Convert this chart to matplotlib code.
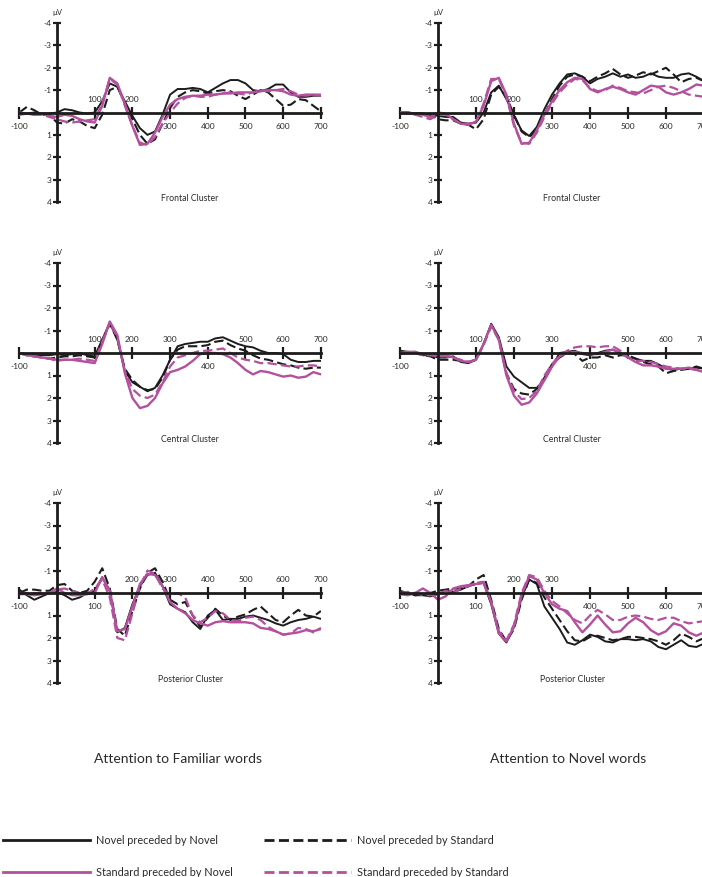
import matplotlib
matplotlib.use('Agg')
import matplotlib.pyplot as plt
from matplotlib.lines import Line2D

plt.rcParams['font.family'] = ['Lato', 'DejaVu Sans']

# time axis (ms), one value every 20 ms
TIMES = list(range(-100, 701, 20))
Y_TICKS = [-4, -3, -2, -1, 1, 2, 3, 4]
X_TICKS = [-100, 100, 200, 300, 400, 500, 600, 700]

# Frontal cluster - attention to familiar words
frontal_fam_nn = [0.0, 0.05, 0.0, 0.05, 0.05, 0.0, -0.15, -0.1, 0.0, 0.05, 0.0,
                  -0.5, -1.3, -1.15, -0.5, 0.15, 0.7, 1.0, 0.85, 0.1, -0.8,
                  -1.05, -1.05, -1.1, -1.05, -0.9, -1.1, -1.3, -1.45, -1.45, -1.3,
                  -1.0, -0.95, -1.05, -1.25, -1.25, -0.9, -0.7, -0.7, -0.75, -0.75]
frontal_fam_ns = [0.0, -0.25, -0.1, 0.1, 0.1, 0.45, 0.5, 0.3, 0.4, 0.6, 0.7,
                  0.1, -1.0, -1.15, -0.4, 0.3, 1.0, 1.4, 1.2, 0.5, -0.2,
                  -0.7, -0.9, -1.0, -0.95, -0.85, -0.95, -1.0, -0.95, -0.75, -0.6,
                  -0.8, -1.0, -0.9, -0.6, -0.3, -0.35, -0.6, -0.55, -0.3, -0.05]
frontal_fam_sn = [0.1, 0.05, 0.1, 0.05, 0.15, 0.2, 0.1, 0.15, 0.3, 0.4, 0.45,
                  -0.3, -1.55, -1.3, -0.4, 0.6, 1.45, 1.4, 0.9, 0.2, -0.35,
                  -0.6, -0.7, -0.75, -0.75, -0.8, -0.8, -0.85, -0.85, -0.9, -0.9,
                  -0.9, -0.95, -1.0, -1.0, -0.95, -0.8, -0.75, -0.8, -0.8, -0.75]
frontal_fam_ss = [0.0, 0.05, 0.1, 0.1, 0.2, 0.3, 0.4, 0.45, 0.4, 0.35, 0.3,
                  -0.4, -1.5, -1.25, -0.3, 0.6, 1.35, 1.45, 1.1, 0.5, 0.0,
                  -0.4, -0.65, -0.75, -0.7, -0.7, -0.8, -0.85, -0.9, -0.85, -0.8,
                  -0.9, -1.0, -0.95, -1.0, -1.05, -0.95, -0.8, -0.75, -0.8, -0.8]

# Frontal cluster - attention to novel words
frontal_nov_nn = [0.0, 0.0, 0.05, 0.05, 0.1, 0.15, 0.2, 0.2, 0.45, 0.5, 0.45,
                  0.0, -0.9, -1.2, -0.6, 0.15, 0.8, 1.05, 0.65, -0.15, -0.8,
                  -1.3, -1.7, -1.75, -1.6, -1.3, -1.5, -1.6, -1.75, -1.6, -1.7,
                  -1.55, -1.6, -1.75, -1.6, -1.55, -1.55, -1.7, -1.75, -1.6, -1.4]
frontal_nov_ns = [0.0, 0.0, 0.05, 0.05, 0.1, 0.3, 0.35, 0.35, 0.5, 0.55, 0.75,
                  0.3, -0.8, -1.15, -0.7, 0.1, 0.85, 1.1, 0.8, 0.1, -0.6,
                  -1.2, -1.6, -1.7, -1.6, -1.4, -1.6, -1.75, -1.95, -1.7, -1.55,
                  -1.65, -1.8, -1.7, -1.85, -2.0, -1.7, -1.35, -1.5, -1.55, -1.4]
frontal_nov_sn = [0.0, 0.0, 0.05, 0.1, 0.2, 0.0, 0.05, 0.3, 0.5, 0.55, 0.4,
                  -0.3, -1.4, -1.55, -0.8, 0.5, 1.4, 1.35, 0.8, 0.1, -0.5,
                  -1.0, -1.35, -1.55, -1.5, -1.05, -0.9, -1.05, -1.15, -1.05, -0.9,
                  -0.8, -1.0, -1.2, -1.15, -0.9, -0.8, -0.9, -1.05, -1.25, -1.2]
frontal_nov_ss = [0.0, 0.05, 0.1, 0.2, 0.3, 0.1, 0.1, 0.3, 0.5, 0.5, 0.45,
                  -0.4, -1.5, -1.5, -0.7, 0.6, 1.35, 1.4, 0.9, 0.2, -0.4,
                  -0.9, -1.25, -1.5, -1.45, -1.1, -0.95, -1.0, -1.2, -1.1, -0.95,
                  -0.9, -0.85, -1.0, -1.15, -1.2, -1.1, -0.95, -0.8, -0.75, -0.7]

# Central cluster - attention to familiar words
central_fam_nn = [0.0, 0.05, 0.1, 0.1, 0.1, 0.05, 0.1, 0.05, 0.0, 0.1, 0.15,
                  -0.6, -1.35, -0.6, 0.8, 1.3, 1.5, 1.7, 1.55, 1.0, 0.3,
                  -0.3, -0.4, -0.45, -0.5, -0.5, -0.65, -0.7, -0.55, -0.4, -0.3,
                  -0.25, -0.1, 0.0, 0.0, 0.05, 0.3, 0.4, 0.4, 0.35, 0.35]
central_fam_ns = [0.0, 0.1, 0.15, 0.2, 0.25, 0.2, 0.15, 0.15, 0.1, 0.15, 0.2,
                  -0.5, -1.3, -0.6, 0.7, 1.2, 1.5, 1.65, 1.6, 1.1, 0.3,
                  -0.15, -0.3, -0.3, -0.3, -0.35, -0.5, -0.55, -0.35, -0.2, -0.1,
                  0.1, 0.25, 0.3, 0.4, 0.5, 0.55, 0.65, 0.7, 0.65, 0.65]
central_fam_sn = [0.0, 0.1, 0.15, 0.2, 0.25, 0.3, 0.3, 0.3, 0.35, 0.4, 0.45,
                  -0.4, -1.4, -0.8, 0.9, 2.0, 2.45, 2.35, 2.0, 1.35, 0.85,
                  0.75, 0.6, 0.35, 0.05, 0.0, 0.0, 0.05, 0.2, 0.45, 0.75,
                  0.95, 0.8, 0.85, 0.95, 1.05, 1.0, 1.1, 1.05, 0.85, 0.95]
central_fam_ss = [0.0, 0.1, 0.15, 0.2, 0.25, 0.35, 0.3, 0.3, 0.25, 0.3, 0.35,
                  -0.5, -1.35, -0.7, 0.8, 1.6, 1.9, 2.0, 1.85, 1.3, 0.6,
                  0.2, 0.1, 0.0, -0.1, -0.1, -0.15, -0.2, 0.0, 0.2, 0.3,
                  0.35, 0.45, 0.45, 0.5, 0.55, 0.6, 0.6, 0.55, 0.55, 0.6]

# Central cluster - attention to novel words
central_nov_nn = [-0.05, 0.0, 0.0, 0.1, 0.1, 0.2, 0.2, 0.15, 0.4, 0.45, 0.3,
                  -0.4, -1.3, -0.7, 0.6, 1.05, 1.3, 1.55, 1.55, 1.2, 0.6,
                  0.0, -0.05, -0.1, 0.05, 0.1, 0.0, -0.1, -0.15, 0.0, 0.2,
                  0.25, 0.35, 0.35, 0.5, 0.7, 0.75, 0.7, 0.7, 0.65, 0.7]
central_nov_ns = [-0.1, -0.05, -0.05, 0.1, 0.15, 0.3, 0.3, 0.3, 0.35, 0.4, 0.3,
                  -0.4, -1.2, -0.6, 0.9, 1.6, 1.8, 1.85, 1.6, 1.1, 0.5,
                  0.2, 0.0, 0.05, 0.35, 0.2, 0.2, 0.1, 0.2, 0.1, 0.1,
                  0.25, 0.4, 0.5, 0.6, 0.9, 0.8, 0.75, 0.7, 0.6, 0.7]
central_nov_sn = [0.0, -0.05, -0.05, 0.05, 0.05, 0.1, 0.1, 0.2, 0.35, 0.4, 0.3,
                  -0.4, -1.25, -0.6, 1.0, 1.9, 2.3, 2.2, 1.8, 1.2, 0.6,
                  0.15, 0.0, -0.05, 0.0, 0.05, 0.05, -0.05, -0.15, 0.0, 0.2,
                  0.4, 0.55, 0.55, 0.6, 0.7, 0.7, 0.7, 0.65, 0.75, 0.85]
central_nov_ss = [0.05, 0.0, 0.0, 0.1, 0.1, 0.15, 0.15, 0.2, 0.3, 0.4, 0.3,
                  -0.35, -1.2, -0.6, 0.9, 1.7, 2.05, 2.0, 1.7, 1.0, 0.5,
                  0.1, -0.1, -0.25, -0.3, -0.3, -0.25, -0.3, -0.3, -0.1, 0.2,
                  0.35, 0.35, 0.4, 0.5, 0.6, 0.65, 0.7, 0.7, 0.75, 0.8]

# Posterior cluster - attention to familiar words
posterior_fam_nn = [-0.15, 0.1, 0.3, 0.15, 0.0, -0.05, 0.1, 0.3, 0.2, 0.0, -0.1,
                    -0.7, -0.1, 1.75, 1.55, 0.5, -0.3, -0.8, -0.9, -0.3, 0.5,
                    0.7, 0.85, 1.3, 1.6, 1.0, 0.75, 1.2, 1.15, 1.15, 1.05,
                    1.0, 1.1, 1.2, 1.35, 1.45, 1.3, 1.2, 1.15, 1.05, 1.15]
posterior_fam_ns = [0.0, -0.15, -0.15, -0.1, -0.1, -0.35, -0.4, -0.1, 0.0, -0.1, -0.5,
                    -1.1, -0.2, 1.6, 1.9, 0.8, -0.2, -0.9, -1.1, -0.5, 0.3,
                    0.5, 0.4, 1.0, 1.5, 1.1, 0.7, 1.0, 1.2, 1.05, 0.95,
                    0.75, 0.6, 0.9, 1.2, 1.3, 1.0, 0.75, 1.0, 1.05, 0.8]
posterior_fam_sn = [0.05, 0.05, 0.1, 0.05, 0.0, -0.2, 0.0, 0.1, 0.1, 0.05, 0.0,
                    -0.7, -0.1, 1.7, 1.6, 0.6, -0.4, -0.85, -0.8, -0.3, 0.4,
                    0.7, 0.9, 1.2, 1.35, 1.45, 1.3, 1.25, 1.3, 1.3, 1.3,
                    1.35, 1.55, 1.6, 1.7, 1.85, 1.8, 1.75, 1.65, 1.7, 1.6]
posterior_fam_ss = [0.0, 0.0, 0.0, 0.0, 0.0, -0.15, -0.2, -0.1, 0.0, 0.05, -0.2,
                    -0.6, 0.2, 2.0, 2.1, 0.9, -0.3, -1.0, -0.85, -0.2, 0.1,
                    0.0, 0.2, 1.0, 1.3, 1.1, 0.8, 0.9, 1.2, 1.25, 1.1,
                    1.05, 1.2, 1.5, 1.7, 1.85, 1.8, 1.55, 1.6, 1.75, 1.55]

# Posterior cluster - attention to novel words
posterior_nov_nn = [-0.1, 0.0, 0.1, 0.1, 0.15, 0.05, -0.1, -0.05, -0.15, -0.3, -0.4,
                    -0.45, 0.5, 1.8, 2.2, 1.5, 0.2, -0.6, -0.4, 0.6, 1.1,
                    1.6, 2.2, 2.3, 2.1, 1.85, 1.95, 2.15, 2.2, 2.05, 2.05,
                    2.1, 2.05, 2.15, 2.4, 2.5, 2.3, 2.1, 2.35, 2.4, 2.25]
posterior_nov_ns = [0.0, 0.05, 0.1, 0.05, 0.0, -0.1, -0.15, -0.2, -0.2, -0.3, -0.6,
                    -0.8, 0.3, 1.6, 2.15, 1.6, 0.3, -0.6, -0.45, 0.2, 0.7,
                    1.2, 1.7, 2.1, 2.15, 1.95, 1.9, 2.0, 2.1, 2.05, 1.95,
                    1.95, 2.0, 2.05, 2.15, 2.3, 2.1, 1.8, 1.95, 2.15, 2.0]
posterior_nov_sn = [0.05, 0.1, 0.0, -0.2, 0.0, 0.3, 0.15, -0.2, -0.3, -0.35, -0.4,
                    -0.45, 0.4, 1.8, 2.15, 1.5, 0.1, -0.75, -0.6, 0.0, 0.5,
                    0.7, 0.8, 1.3, 1.75, 1.4, 1.0, 1.4, 1.75, 1.7, 1.35,
                    1.1, 1.3, 1.65, 1.85, 1.7, 1.35, 1.45, 1.75, 1.9, 1.75]
posterior_nov_ss = [0.0, -0.05, 0.0, 0.1, 0.1, 0.05, -0.1, 0.0, -0.2, -0.3, -0.45,
                    -0.5, 0.4, 1.7, 2.1, 1.4, 0.0, -0.8, -0.7, -0.1, 0.35,
                    0.6, 0.9, 1.2, 1.35, 1.0, 0.75, 0.95, 1.2, 1.2, 1.05,
                    1.0, 1.05, 1.15, 1.2, 1.1, 1.1, 1.25, 1.35, 1.3, 1.25]

CONDITIONS = ['Novel preceded by Novel', 'Standard preceded by Novel',
              'Novel preceded by Standard', 'Standard preceded by Standard']
COLUMN_TITLES = ['Attention to Familiar words', 'Attention to Novel words']

BLACK = '#1c1c1c'
MAGENTA = '#b4509d'
TEXT = '#2a2a2a'
STYLES = {
    'nn': dict(color=BLACK, lw=1.4, ls='-'),
    'ns': dict(color=BLACK, lw=1.5, ls=(0, (4.5, 2))),
    'sn': dict(color=MAGENTA, lw=1.7, ls='-'),
    'ss': dict(color=MAGENTA, lw=1.6, ls=(0, (4.2, 1.9))),
}

# (column, row, cluster label, curves, x tick labels drawn above the axis)
panels = [
    (0, 0, 'Frontal Cluster',
     dict(nn=frontal_fam_nn, ns=frontal_fam_ns, sn=frontal_fam_sn, ss=frontal_fam_ss), {100, 200}),
    (1, 0, 'Frontal Cluster',
     dict(nn=frontal_nov_nn, ns=frontal_nov_ns, sn=frontal_nov_sn, ss=frontal_nov_ss), {100, 200}),
    (0, 1, 'Central Cluster',
     dict(nn=central_fam_nn, ns=central_fam_ns, sn=central_fam_sn, ss=central_fam_ss),
     {100, 200, 300, 500, 600, 700}),
    (1, 1, 'Central Cluster',
     dict(nn=central_nov_nn, ns=central_nov_ns, sn=central_nov_sn, ss=central_nov_ss),
     {100, 200, 300, 500, 600, 700}),
    (0, 2, 'Posterior Cluster',
     dict(nn=posterior_fam_nn, ns=posterior_fam_ns, sn=posterior_fam_sn, ss=posterior_fam_ss),
     {200, 300, 400, 500, 600, 700}),
    (1, 2, 'Posterior Cluster',
     dict(nn=posterior_nov_nn, ns=posterior_nov_ns, sn=posterior_nov_sn, ss=posterior_nov_ss),
     {200, 300}),
]

W, H = 702, 877
fig = plt.figure(figsize=(W / 100, H / 100), dpi=100)
fig.patch.set_facecolor('white')

# pixel extents of the data area (x from -100 to 700 ms, y from -4 to 4 uV)
COL_X = [(19.3, 320.9), (400.0, 704.0)]
ROW_Y = [(23.0, 202.0), (263.0, 443.0), (503.0, 683.0)]

for col, row, label, curves, above in panels:
    x0, x1 = COL_X[col]
    y0, y1 = ROW_Y[row]
    ax = fig.add_axes([x0 / W, 1 - y1 / H, (x1 - x0) / W, (y1 - y0) / H])
    ax.set_facecolor('none')
    for key in ['nn', 'ns', 'sn', 'ss']:
        ax.plot(TIMES, curves[key], solid_capstyle='round', **STYLES[key])
    ax.set_xlim(-100, 700)
    ax.set_ylim(4, -4)

    for side in ['top', 'right']:
        ax.spines[side].set_visible(False)
    ax.spines['left'].set_position(('data', 0))
    ax.spines['bottom'].set_position(('data', 0))
    for side in ['left', 'bottom']:
        ax.spines[side].set_linewidth(2.0)
        ax.spines[side].set_color(BLACK)

    ax.set_yticks(Y_TICKS)
    ax.set_yticklabels([str(v) for v in Y_TICKS])
    ax.tick_params(axis='y', direction='inout', length=6, width=1.6, pad=1,
                   labelsize=6, colors=BLACK, labelcolor=TEXT)
    ax.set_xticks(X_TICKS)
    ax.set_xticklabels([])
    ax.tick_params(axis='x', direction='inout', length=9, width=1.6, colors=BLACK)

    for t in X_TICKS:
        yv = -0.6 if t in above else 0.62
        ax.text(t, yv, str(t), ha='center', va='center', fontsize=6, color=TEXT)

    ax.text(0, -4.45, 'µV', ha='center', va='center', fontsize=5.5, color=TEXT)
    ax.text(353, 3.85, label, ha='center', va='center', fontsize=6.3, color=TEXT)

for i, title in enumerate(COLUMN_TITLES):
    xc = [178, 568][i]
    fig.text(xc / W, 1 - 759 / H, title, ha='center', va='center',
             fontsize=10, color=TEXT)

# legend in two columns (solid lines left, dashed lines right)
legend_font = dict(family=['Lato', 'DejaVu Sans'], size=7.8)
solid_handles = [Line2D([], [], color=BLACK, lw=2.0),
                 Line2D([], [], color=MAGENTA, lw=2.0)]
dashed_handles = [Line2D([], [], color=BLACK, lw=2.0, ls=(0, (3.6, 1.6))),
                  Line2D([], [], color=MAGENTA, lw=2.0, ls=(0, (3.6, 1.6)))]
for handles, names, xpx in [(solid_handles, CONDITIONS[:2], 3),
                            (dashed_handles, CONDITIONS[2:], 264)]:
    leg = fig.legend(handles, names, loc='upper left',
                     bbox_to_anchor=(xpx / W, 1 - 835 / H),
                     frameon=False, borderpad=0, borderaxespad=0,
                     handlelength=8.0, handletextpad=0.6, labelspacing=1.9,
                     prop=legend_font)
    for txt in leg.get_texts():
        txt.set_color(TEXT)

fig.savefig('out.png', dpi=100, facecolor='white')
